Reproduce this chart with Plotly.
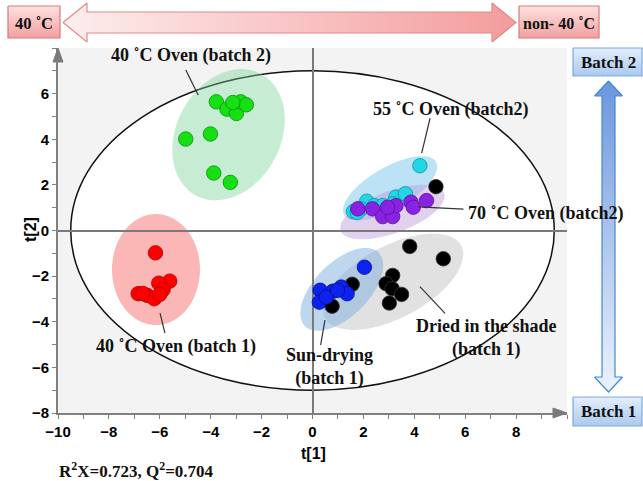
import numpy as np
import plotly.graph_objects as go

# ---------------- data ----------------
green_x = [-3.78, -3.36, -2.99, -2.82, -2.60, -3.13, -4.01, -4.98, -3.88, -3.23]
green_y = [5.64, 5.32, 5.13, 5.64, 5.51, 5.61, 4.23, 4.01, 2.52, 2.11]

red_x = [-6.17, -5.61, -6.04, -5.87, -6.85, -6.50, -6.22, -6.00, -6.67]
red_y = [-0.98, -2.22, -2.31, -2.59, -2.77, -2.84, -2.99, -2.80, -2.76]

cyan_x = [4.22, 1.61, 2.13, 2.43, 2.76, 3.28, 3.65, 1.91, 3.15, 1.76]
cyan_y = [2.84, 0.83, 1.28, 1.09, 1.09, 1.46, 1.61, 0.95, 1.17, 0.79]

purple_x = [1.78, 2.36, 2.76, 3.15, 3.28, 3.87, 3.96, 4.48, 2.95]
purple_y = [0.95, 0.95, 0.61, 0.61, 1.09, 1.24, 1.02, 1.31, 1.02]

black_x = [4.85, 3.82, 5.14, 3.15, 2.89, 3.13, 3.50, 3.02, 1.56, 0.77]
black_y = [1.92, -0.70, -1.24, -1.97, -2.33, -2.55, -2.80, -3.18, -2.36, -3.32]

blue_x = [2.04, 0.30, 0.80, 1.13, 1.36, 0.27, 0.54, 0.98]
blue_y = [-1.61, -2.62, -2.66, -2.48, -2.77, -3.14, -2.92, -2.62]

group_labels = ["40 ˚C Oven (batch 2)", "40 ˚C Oven (batch 1)", "55 ˚C Oven (batch2)",
                "70 ˚C Oven (batch2)", "Dried in the shade<br>(batch 1)", "Sun-drying<br>(batch 1)"]
x_ticks = [-10, -8, -6, -4, -2, 0, 2, 4, 6, 8]
y_ticks = [-8, -6, -4, -2, 0, 2, 4, 6]
x_title = "t[1]"
y_title = "t[2]"
stats_text = "R<sup>2</sup>X=0.723, Q<sup>2</sup>=0.704"

# ---------------- layout geometry ----------------
W, H = 643, 481
PL, PR, PT, PB = 58, 567, 48, 413        # plot area in pixels
XR = [-10, 10]
YR = [-8, 8]
SX = (PR - PL) / (XR[1] - XR[0])
SY = (PB - PT) / (YR[1] - YR[0])

SERIF = "Liberation Serif"
SANS = "Liberation Sans"


def ellipse_path(cx, cy, a, b, ang):
    t = np.linspace(0, 2 * np.pi, 90)
    th = np.radians(ang)
    u, v = a * np.cos(t), b * np.sin(t)
    dx = u * np.cos(th) - v * np.sin(th)
    dy = u * np.sin(th) + v * np.cos(th)
    xs = cx + dx / SX
    ys = cy + dy / SY
    return "M " + " L ".join(f"{x:.4f},{y:.4f}" for x, y in zip(xs, ys)) + " Z"


fig = go.Figure()

groups = [
    (black_x, black_y, "#000000", "#333333"),
    (green_x, green_y, "#14e014", "#0b8f0b"),
    (red_x, red_y, "#ff0000", "#b00000"),
    (cyan_x, cyan_y, "#22d6e6", "#10909c"),
    (purple_x, purple_y, "#8a22e4", "#5a1099"),
    (blue_x, blue_y, "#0c22ee", "#06108c"),
]
for gx, gy, c, lc in groups:
    fig.add_trace(go.Scatter(x=gx, y=gy, mode="markers", xaxis="x", yaxis="y",
                             marker=dict(size=14.5, color=c, line=dict(color=lc, width=0.8)),
                             showlegend=False, hoverinfo="skip"))

shapes = []
shapes.append(dict(type="rect", xref="x domain", yref="y domain", x0=0, x1=1, y0=0, y1=1,
                   fillcolor="#f3f3f3", line=dict(width=0), layer="below"))
shapes.append(dict(type="circle", xref="x", yref="y", x0=-9.5, x1=9.5, y0=-7.0, y1=7.0,
                   fillcolor="white", line=dict(color="#111111", width=1.5), layer="below"))

ellipses = [
    (-3.30, 4.20, 69, 52, 62, "rgba(120,210,150,0.42)"),
    (-6.15, -1.71, 55.5, 44, 90, "rgba(248,110,110,0.5)"),
    (3.17, -2.25, 77, 36, 28, "rgba(195,195,195,0.5)"),
    (1.15, -2.58, 52, 27, 45, "rgba(125,175,222,0.5)"),
    (3.05, 1.85, 53, 21, 30, "rgba(120,200,235,0.5)"),
    (3.14, 0.81, 55, 21, 20, "rgba(190,150,220,0.45)"),
]
for cx, cy, a, b, ang, fc in ellipses:
    shapes.append(dict(type="path", xref="x", yref="y", path=ellipse_path(cx, cy, a, b, ang),
                       fillcolor=fc, line=dict(width=0), layer="below"))

leaders = [
    (-4.98, 7.04, -4.49, 5.94),
    (4.62, 4.92, 4.29, 3.39),
    (4.16, 1.04, 5.93, 0.94),
    (4.22, -2.46, 5.21, -3.63),
    (0.49, -3.93, 0.32, -5.02),
    (-5.99, -3.62, -5.80, -4.50),
]
for x0, y0, x1, y1 in leaders:
    shapes.append(dict(type="line", xref="x", yref="y", x0=x0, y0=y0, x1=x1, y1=y1,
                       line=dict(color="#333333", width=1.2)))

# axis arrow heads (pixel coords on overlay axes)
shapes.append(dict(type="path", xref="x2", yref="y2", layer="above",
                   path=f"M {PL-5},{PT+14} L {PL+5},{PT+14} L {PL},{PT} Z",
                   fillcolor="#7a7a7a", line=dict(color="#7a7a7a", width=1)))
shapes.append(dict(type="path", xref="x2", yref="y2", layer="above",
                   path=f"M {PR-14},{PB-5} L {PR-14},{PB+5} L {PR},{PB} Z",
                   fillcolor="#7a7a7a", line=dict(color="#7a7a7a", width=1)))

annotations = []
label_pos = [(-4.79, 7.69), (-5.38, -5.10), (5.44, 5.29), (9.16, 0.75), (6.82, -4.72), (0.65, -5.99)]
for txt, (lx, ly) in zip(group_labels, label_pos):
    annotations.append(dict(x=lx, y=ly, xref="x", yref="y", text=txt, showarrow=False,
                            font=dict(family=SERIF, size=18, color="#111111", weight="bold")))


def poly(xs, ys, grad_type, cs, line_col):
    fig.add_trace(go.Scatter(x=xs + [xs[0]], y=ys + [ys[0]], xaxis="x2", yaxis="y2", mode="lines",
                             fill="toself", fillgradient=dict(type=grad_type, colorscale=cs),
                             line=dict(color=line_col, width=1.2), showlegend=False, hoverinfo="skip"))


ax0, ax1, hl, yc = 63, 516, 24, 22.5
poly([ax0, ax0 + hl, ax0 + hl, ax1 - hl, ax1 - hl, ax1, ax1 - hl, ax1 - hl, ax0 + hl, ax0 + hl],
     [yc, 3, 12, 12, 3, yc, 42, 33, 33, 42], "horizontal",
     [[0, "#fdeeee"], [1, "#f39c9c"]], "#e38a8a")
# vertical gradients: colorscale 0 = bottom of screen
pink_cs = [[0, "#f2a0a0"], [1, "#fde1e1"]]
for x0, x1 in [(8, 60), (519, 599)]:
    poly([x0, x1, x1, x0], [6, 6, 38, 38], "vertical", pink_cs, "#d97a7a")
xc, sw, hw, t0, t1, hh = 608.5, 6.5, 14, 81, 392, 15
poly([xc, xc + hw, xc + sw, xc + sw, xc + hw, xc, xc - hw, xc - sw, xc - sw, xc - hw],
     [t0, t0 + hh, t0 + hh, t1 - hh, t1 - hh, t1, t1 - hh, t1 - hh, t0 + hh, t0 + hh], "vertical",
     [[0, "#eef3fb"], [1, "#6b96dd"]], "#3f8ad6")
blue_cs = [[0, "#aac9ef"], [1, "#e4eefa"]]
for y0, y1 in [(48, 76), (397, 426)]:
    poly([573, 642, 642, 573], [y0, y0, y1, y1], "vertical", blue_cs, "#7ea8dc")

deco_text = [("40 ˚C", 34, 23, 16.5), ("non- 40 ˚C", 559, 23, 16),
             ("Batch 2", 608, 62, 17), ("Batch 1", 608, 411.5, 17)]
for txt, tx, ty, fs in deco_text:
    annotations.append(dict(x=tx, y=ty, xref="x2", yref="y2", text=txt, showarrow=False,
                            font=dict(family=SERIF, size=fs, color="#111111", weight="bold")))
annotations.append(dict(x=PL - 1, y=470, xref="x2", yref="y2", text=stats_text, showarrow=False, xanchor="left",
                        font=dict(family=SERIF, size=17, color="#111111", weight="bold")))
annotations.append(dict(x=313, y=453, xref="x2", yref="y2", text=x_title, showarrow=False,
                        font=dict(family=SANS, size=16, color="black", weight="bold")))
annotations.append(dict(x=30, y=230, xref="x2", yref="y2", text=y_title, showarrow=False, textangle=-90,
                        font=dict(family=SANS, size=16, color="black", weight="bold")))

axis_font = dict(family=SANS, size=15, color="black", weight="bold")
fig.update_layout(
    width=W, height=H,
    margin=dict(l=0, r=0, t=0, b=0, pad=0),
    paper_bgcolor="white", plot_bgcolor="rgba(0,0,0,0)",
    showlegend=False,
    xaxis=dict(domain=[PL / W, PR / W], range=XR, tickvals=x_ticks, ticks="outside", ticklen=4,
               tickcolor="#808080", showline=True, linecolor="#808080", linewidth=2,
               showgrid=False, zeroline=True, zerolinecolor="#7a7a7a", zerolinewidth=1.5,
               minor=dict(dtick=1, ticks="outside", ticklen=4, tickcolor="#808080"),
               tickfont=axis_font, anchor="y", automargin=False),
    yaxis=dict(domain=[(H - PB) / H, (H - PT) / H], range=YR, tickvals=y_ticks, ticks="outside", ticklen=4,
               tickcolor="#808080", showline=True, linecolor="#808080", linewidth=2,
               showgrid=False, zeroline=True, zerolinecolor="#7a7a7a", zerolinewidth=1.5,
               minor=dict(dtick=1, ticks="outside", ticklen=4, tickcolor="#808080"),
               tickfont=axis_font, anchor="x", automargin=False),
    xaxis2=dict(domain=[0, 1], range=[0, W], visible=False, anchor="y2", fixedrange=True, automargin=False),
    yaxis2=dict(domain=[0, 1], range=[H, 0], visible=False, anchor="x2", fixedrange=True, automargin=False),
    shapes=shapes,
    annotations=annotations,
)

fig.write_html("out.html")
